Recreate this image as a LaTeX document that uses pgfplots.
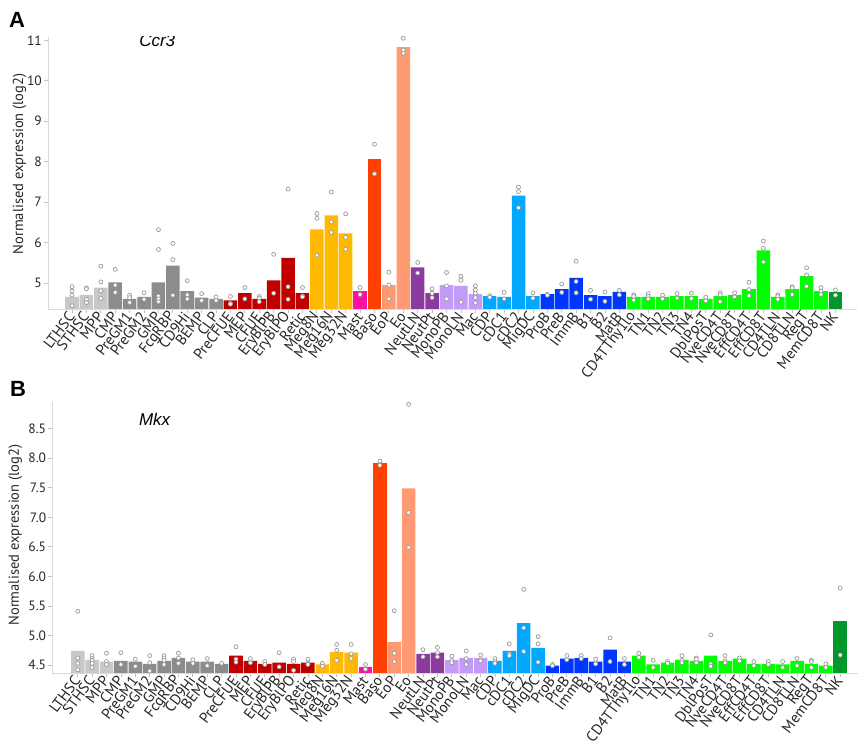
\documentclass[border=0pt]{standalone}
\usepackage{pgfplots}
\pgfplotsset{compat=1.18}
\usepackage{pgfplotstable}
\usepackage{fontspec}
\setmainfont{PT Sans}
\newfontfamily\helv{Liberation Sans}

\definecolor{cLG}{HTML}{C8C8C8}
\definecolor{cDG}{HTML}{8C8C8C}
\definecolor{cRed}{HTML}{C00000}
\definecolor{cMeg}{HTML}{FFB900}
\definecolor{cMast}{HTML}{FF0FA5}
\definecolor{cBaso}{HTML}{FF4000}
\definecolor{cEo}{HTML}{FF9A73}
\definecolor{cNeut}{HTML}{8B3A9E}
\definecolor{cMono}{HTML}{C39BF8}
\definecolor{cDC}{HTML}{00A8FF}
\definecolor{cB}{HTML}{0036FF}
\definecolor{cT}{HTML}{00FF00}
\definecolor{cNK}{HTML}{00982A}
\definecolor{axgrey}{HTML}{DADADA}
\definecolor{tkgrey}{HTML}{C4C4C4}
\definecolor{ptgrey}{HTML}{9A9A9A}

\pgfplotstableread{
x y
0 4.66
1 4.71
2 4.89
3 5.02
4 4.61
5 4.66
6 5.02
7 5.43
8 4.80
9 4.64
10 4.61
11 4.57
12 4.75
13 4.61
14 5.07
15 5.62
16 4.75
17 6.33
18 6.67
19 6.23
20 4.80
21 8.07
22 4.95
23 10.83
24 5.39
25 4.75
26 4.95
27 4.93
28 4.73
29 4.68
30 4.66
31 7.16
32 4.68
33 4.73
34 4.85
35 5.13
36 4.70
37 4.68
38 4.78
39 4.66
40 4.66
41 4.66
42 4.68
43 4.68
44 4.61
45 4.68
46 4.70
47 4.85
48 5.81
49 4.66
50 4.85
51 5.17
52 4.80
53 4.78
}\barsA

\pgfplotstableread{
x y
0 4.91
0 4.80
0 4.70
0 4.44
1 4.88
1 4.86
1 4.60
1 4.52
2 5.42
2 5.03
2 4.81
2 4.62
3 5.34
3 4.95
3 4.77
4 4.70
4 4.64
4 4.52
5 4.76
5 4.60
6 6.32
6 5.83
6 4.68
6 4.61
6 4.54
7 5.98
7 5.58
7 4.70
8 5.06
8 4.71
8 4.61
9 4.74
9 4.57
10 4.66
10 4.57
11 4.67
11 4.50
11 4.48
12 4.89
12 4.61
13 4.67
13 4.63
13 4.54
14 5.71
14 4.75
15 7.32
15 4.91
15 4.60
16 4.89
16 4.68
16 4.66
17 6.72
17 6.60
17 5.69
18 7.25
18 6.51
18 6.25
19 6.71
19 6.13
19 5.84
20 4.89
20 4.72
21 8.43
21 7.70
22 5.27
22 4.95
22 4.61
23 11.05
23 10.76
23 10.68
24 5.51
24 5.25
25 4.86
25 4.75
25 4.64
26 5.26
26 4.93
26 4.61
27 5.17
27 5.07
27 4.53
28 4.93
28 4.83
28 4.75
28 4.64
28 4.51
29 4.69
29 4.65
30 4.77
30 4.61
31 7.37
31 7.26
31 6.86
32 4.76
32 4.63
33 4.72
33 4.70
34 4.98
34 4.77
35 5.54
35 5.04
35 4.76
36 4.82
36 4.60
37 4.78
37 4.55
38 4.82
38 4.71
39 4.71
39 4.67
39 4.58
40 4.74
40 4.67
40 4.61
41 4.70
41 4.61
42 4.74
42 4.63
43 4.75
43 4.62
44 4.65
44 4.56
45 4.76
45 4.71
45 4.54
46 4.76
46 4.66
47 5.02
47 4.84
47 4.69
48 6.04
48 5.86
48 5.52
49 4.71
49 4.67
49 4.60
50 4.91
50 4.88
50 4.72
51 5.38
51 5.20
51 4.92
52 4.89
52 4.80
52 4.72
53 4.83
53 4.70
}\ptsA

\pgfplotstableread{
x y
0 4.74
1 4.59
2 4.56
3 4.57
4 4.56
5 4.52
6 4.57
7 4.62
8 4.56
9 4.56
10 4.52
11 4.66
12 4.57
13 4.52
14 4.54
15 4.52
16 4.54
17 4.51
18 4.72
19 4.71
20 4.47
21 7.91
22 4.89
23 7.49
24 4.69
25 4.71
26 4.59
27 4.62
28 4.62
29 4.57
30 4.74
31 5.21
32 4.79
33 4.49
34 4.61
35 4.62
36 4.56
37 4.76
38 4.56
39 4.66
40 4.51
41 4.54
42 4.59
43 4.57
44 4.66
45 4.57
46 4.61
47 4.52
48 4.52
49 4.51
50 4.57
51 4.52
52 4.49
53 5.24
}\barsB

\pgfplotstableread{
x y
0 5.41
0 4.62
0 4.53
0 4.42
1 4.66
1 4.61
1 4.58
1 4.53
1 4.46
2 4.70
2 4.56
2 4.51
3 4.71
3 4.51
4 4.60
4 4.48
5 4.66
5 4.54
5 4.40
6 4.66
6 4.62
6 4.58
6 4.51
7 4.70
7 4.62
7 4.53
8 4.59
8 4.53
9 4.61
9 4.49
10 4.53
11 4.81
11 4.60
11 4.55
12 4.61
12 4.54
13 4.56
13 4.51
14 4.71
14 4.47
15 4.60
15 4.56
15 4.41
16 4.60
16 4.53
16 4.51
17 4.53
17 4.48
18 4.85
18 4.75
18 4.58
19 4.85
19 4.69
19 4.61
20 4.51
20 4.43
21 7.95
21 7.88
22 5.42
22 4.70
22 4.56
23 8.91
23 7.08
23 6.49
24 4.76
24 4.64
25 4.80
25 4.71
25 4.64
26 4.65
26 4.58
26 4.54
27 4.74
27 4.61
27 4.51
28 4.67
28 4.59
28 4.57
29 4.61
29 4.56
29 4.53
30 4.86
30 4.69
30 4.66
31 5.78
31 5.13
31 4.73
32 4.98
32 4.86
32 4.55
33 4.51
33 4.49
34 4.66
34 4.59
35 4.66
35 4.61
36 4.60
36 4.52
37 4.96
37 4.56
38 4.61
38 4.51
39 4.70
39 4.63
40 4.58
40 4.46
41 4.56
41 4.53
42 4.66
42 4.58
42 4.54
43 4.62
43 4.60
43 4.54
44 5.01
44 4.52
44 4.48
45 4.66
45 4.57
45 4.54
46 4.62
46 4.57
47 4.56
47 4.49
48 4.56
48 4.51
49 4.56
49 4.46
50 4.61
50 4.49
51 4.58
51 4.56
51 4.46
52 4.52
52 4.46
53 5.80
53 4.67
}\ptsB

\pgfplotsset{
  grp/.style 2 args={ybar, bar width=0.94, bar shift=0pt, draw=none, fill=#1, restrict x to domain=#2},
  pts/.style={only marks, mark=*, mark size=2, mark options={draw=ptgrey, fill=white, line width=0.7pt}},
  myax/.style={
    scale only axis,
    axis x line*=bottom, axis y line*=left,
    axis line style={draw=axgrey, line width=0.9pt, -},
    xtick={0,...,53},
    xticklabels={LTHSC,STHSC,MPP,CMP,PreGM1,PreGM2,GMP,FcgRBP,CD9Hi,BEMP,CLP,PreCFUE,MEP,CFUE,EryBlPB,EryBlPO,Retic,Meg8N,Meg16N,Meg32N,Mast,Baso,EoP,Eo,NeutLN,NeutPt,MonoPB,MonoLN,Mac,CDP,cDC1,cDC2,MigDC,ProB,PreB,ImmB,B1,B2,MatB,CD4TThy1lo,TN1,TN2,TN3,TN4,DblPosT,NveCD4T,NveCD8T,EffCD4T,EffCD8T,CD4TLN,CD8TLN,RegT,MemCD8T,NK},
    xticklabel style={rotate=53, anchor=east, inner sep=1pt, font=\fontsize{15}{15}\selectfont, text=black!85},
    yticklabel style={font=\fontsize{13.5}{13.5}\selectfont, text=black!85, inner sep=2pt},
    tick style={draw=tkgrey, line width=0.8pt},
    major tick length=4pt,
    tick align=outside,
    /pgf/number format/assume math mode=true,
    ylabel style={font=\fontsize{14.5}{14.5}\selectfont, text=black!85},
  },
}

\begin{document}
\begin{tikzpicture}
\useasboundingbox (0pt,0pt) rectangle (859pt,746pt);
\node[font=\helv\bfseries\fontsize{22}{22}\selectfont] at (17pt,726pt) {A};
\node[font=\helv\bfseries\fontsize{22}{22}\selectfont] at (18pt,357pt) {B};

\begin{axis}[myax, at={(48pt,437pt)}, anchor=south west,
  width=809pt, height=272pt,
  xmin=-1.667, xmax=54.5, ymin=4.36, ymax=11.08,
  ytick={5,6,7,8,9,10,11},
  ylabel={Normalised expression (log2)},
  ylabel style={at={(axis description cs:-0.035,0.533)}, anchor=center},
]
\addplot[grp={cLG}{-0.5:2.5}] table {\barsA};
\addplot[grp={cDG}{2.5:10.5}] table {\barsA};
\addplot[grp={cRed}{10.5:16.5}] table {\barsA};
\addplot[grp={cMeg}{16.5:19.5}] table {\barsA};
\addplot[grp={cMast}{19.5:20.5}] table {\barsA};
\addplot[grp={cBaso}{20.5:21.5}] table {\barsA};
\addplot[grp={cEo}{21.5:23.5}] table {\barsA};
\addplot[grp={cNeut}{23.5:25.5}] table {\barsA};
\addplot[grp={cMono}{25.5:28.5}] table {\barsA};
\addplot[grp={cDC}{28.5:32.5}] table {\barsA};
\addplot[grp={cB}{32.5:38.5}] table {\barsA};
\addplot[grp={cT}{38.5:52.5}] table {\barsA};
\addplot[grp={cNK}{52.5:53.5}] table {\barsA};
\addplot[pts] table {\ptsA};
\node[font=\helv\itshape\fontsize{17}{17}\selectfont] at (rel axis cs:0.135,0.985) {Ccr3};
\end{axis}

\begin{axis}[myax, at={(52.3pt,73pt)}, anchor=south west,
  width=806pt, height=271pt,
  xmin=-1.77, xmax=54.26, ymin=4.366, ymax=8.95,
  ytick={4.5,5,5.5,6,6.5,7,7.5,8,8.5},
  yticklabel={\pgfmathprintnumber[fixed,fixed zerofill,precision=1]{\tick}},
  ylabel={Normalised expression (log2)},
  ylabel style={at={(axis description cs:-0.046,0.509)}, anchor=center},
]
\addplot[grp={cLG}{-0.5:2.5}] table {\barsB};
\addplot[grp={cDG}{2.5:10.5}] table {\barsB};
\addplot[grp={cRed}{10.5:16.5}] table {\barsB};
\addplot[grp={cMeg}{16.5:19.5}] table {\barsB};
\addplot[grp={cMast}{19.5:20.5}] table {\barsB};
\addplot[grp={cBaso}{20.5:21.5}] table {\barsB};
\addplot[grp={cEo}{21.5:23.5}] table {\barsB};
\addplot[grp={cNeut}{23.5:25.5}] table {\barsB};
\addplot[grp={cMono}{25.5:28.5}] table {\barsB};
\addplot[grp={cDC}{28.5:32.5}] table {\barsB};
\addplot[grp={cB}{32.5:38.5}] table {\barsB};
\addplot[grp={cT}{38.5:52.5}] table {\barsB};
\addplot[grp={cNK}{52.5:53.5}] table {\barsB};
\addplot[pts] table {\ptsB};
\node[font=\helv\itshape\fontsize{17}{17}\selectfont] at (rel axis cs:0.127,0.935) {Mkx};
\end{axis}
\end{tikzpicture}
\end{document}
